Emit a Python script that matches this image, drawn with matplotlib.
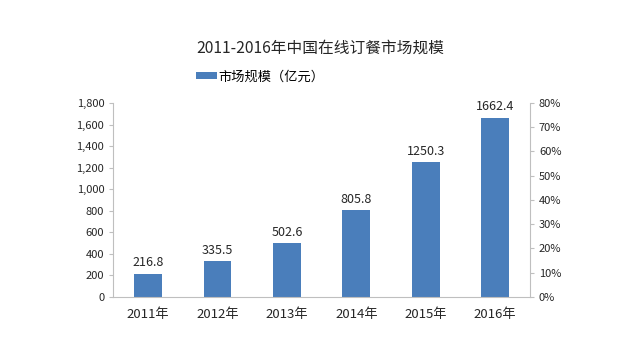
import matplotlib.pyplot as plt
from matplotlib.ticker import FuncFormatter

plt.rcParams['font.family'] = ['Noto Sans CJK SC', 'DejaVu Sans']

years = ['2011年', '2012年', '2013年', '2014年', '2015年', '2016年']
scale = [216.8, 335.5, 502.6, 805.8, 1250.3, 1662.4]
left_ticks = [0, 200, 400, 600, 800, 1000, 1200, 1400, 1600, 1800]
right_ticks = [0, 0.1, 0.2, 0.3, 0.4, 0.5, 0.6, 0.7, 0.8]

grey = '#bfbfbf'
txt = '#262626'

fig = plt.figure(figsize=(6.4, 3.6), dpi=100)
ax = fig.add_axes([0.177, 0.175, 0.651, 0.539])
x = range(len(years))
bars = ax.bar(x, scale, width=0.4, color='#4a7ebb', label='市场规模（亿元）')
for i, v in enumerate(scale):
    ax.text(i, v + 40, f'{v}', ha='center', va='bottom', fontsize=9, color=txt)

ax.set_xlim(-0.5, 5.5)
ax.set_ylim(0, 1800)
ax.set_yticks(left_ticks)
ax.yaxis.set_major_formatter(FuncFormatter(lambda v, p: f'{int(v):,}'))
ax.set_xticks(list(x))
ax.set_xticklabels(years, fontsize=9.5, color=txt)
ax.tick_params(axis='y', labelsize=8, colors=txt, length=3, color=grey)
ax.tick_params(axis='x', length=0, pad=8)
for s in ['top', 'right']:
    ax.spines[s].set_visible(False)
for s in ['left', 'bottom']:
    ax.spines[s].set_color(grey)

ax2 = ax.twinx()
ax2.set_ylim(0, 0.8)
ax2.set_yticks(right_ticks)
ax2.yaxis.set_major_formatter(FuncFormatter(lambda v, p: f'{round(v * 100)}%'))
ax2.tick_params(axis='y', labelsize=8, colors=txt, length=3, color=grey)
for s in ['top', 'left', 'bottom']:
    ax2.spines[s].set_visible(False)
ax2.spines['right'].set_color(grey)

fig.text(0.5, 0.865, '2011-2016年中国在线订餐市场规模', ha='center', va='center',
         fontsize=11.3, color=txt)
fig.legend(handles=[bars], loc='center left', bbox_to_anchor=(0.287, 0.786),
           frameon=False, fontsize=9.5, handlelength=1.6, handleheight=0.45,
           handletextpad=0.15)

fig.savefig('out.png', dpi=100, facecolor='white')
